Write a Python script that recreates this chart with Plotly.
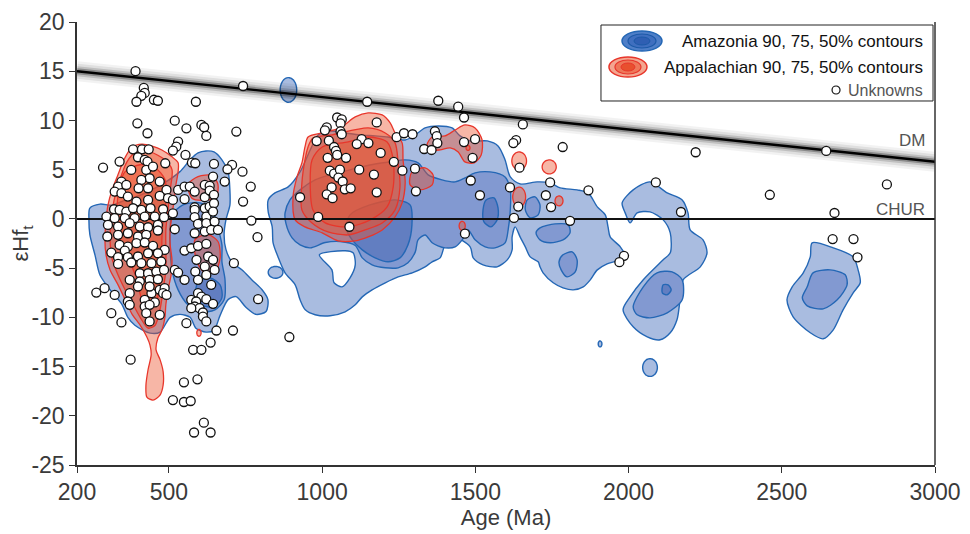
import numpy as np
import plotly.graph_objects as go

# ---------------- data (data units: Age in Ma, epsilon Hf) ----------------
x_ticks = [200, 500, 1000, 1500, 2000, 2500, 3000]
y_ticks = [-25, -20, -15, -10, -5, 0, 5, 10, 15, 20]
y_tick_text = ["-25", "-20", "-15", "-10", "-5", "0", "5", "10", "15", "20"]

dm_age = [200, 3000]
dm_ehf = [15.0, 5.8]
chur_age = [200, 3000]
chur_ehf = [0, 0]

# Amazonia contours (90 %, 75 %, 50 %)
amaz90_left = [(242,1.1),(275,1.5),(314,1.4),(357,1.9),(406,2.4),(471,3.4),(536,4.8),(569,6.0),(595,6.7),(621,6.9),(647,6.8),(673,6.0),(693,4.8),(699,2.9),(699,1.4),(686,-0.1),(680,-1.6),(686,-3.1),(706,-4.4),(739,-5.2),(771,-6.2),(804,-7.2),(823,-8.2),(817,-9.4),(784,-9.7),(752,-9.0),(719,-7.9),(693,-8.2),(667,-9.8),(647,-11.3),(621,-11.5),(588,-11.1),(569,-10.0),(536,-9.7),(504,-10.0),(471,-11.5),(438,-11.6),(389,-10.8),(366,-10.0),(347,-8.7),(308,-7.2),(275,-5.7),(259,-3.7),(242,-1.6),(239,-0.1)]
amaz90_center = [(824,1.93),(846,2.64),(889,3.25),(928,4.77),(961,7.0),(987,8.53),(1026,8.93),(1075,8.73),(1124,8.53),(1173,8.43),(1215,8.32),(1271,8.02),(1304,8.53),(1336,9.24),(1379,9.44),(1424,9.24),(1450,8.43),(1483,7.92),(1539,7.92),(1574,7.41),(1597,5.99),(1614,4.26),(1646,3.55),(1702,3.76),(1744,3.66),(1777,3.15),(1832,2.95),(1868,2.64),(1898,1.22),(1924,0.41),(1933,-0.81),(1940,-1.83),(1973,-2.84),(1989,-3.86),(1963,-4.26),(1930,-4.57),(1898,-5.18),(1875,-6.19),(1852,-6.90),(1819,-7.21),(1786,-7.0),(1754,-6.49),(1721,-5.48),(1711,-4.87),(1705,-4.36),(1679,-3.86),(1663,-2.84),(1646,-1.83),(1630,-0.81),(1620,-1.83),(1620,-3.15),(1604,-4.16),(1571,-4.87),(1525,-4.67),(1493,-3.96),(1483,-2.84),(1428,-1.83),(1401,-2.64),(1385,-3.96),(1359,-4.36),(1336,-4.87),(1294,-5.48),(1248,-5.89),(1206,-6.49),(1163,-7.21),(1131,-7.92),(1108,-8.73),(1075,-9.44),(1026,-9.84),(977,-9.74),(945,-9.24),(928,-8.22),(912,-6.70),(879,-5.48),(856,-3.86),(840,-2.43),(837,-0.81),(824,0.71)]
amaz90_hole = [(991,-3.65),(1075,-3.24),(1101,-3.45),(1108,-4.67),(1091,-5.99),(1065,-6.90),(1039,-6.49),(1032,-5.18)]
amaz90_right = [(1979,1.63),(2015,2.95),(2070,3.76),(2126,2.64),(2175,1.93),(2194,0.61),(2201,-1.12),(2243,-2.13),(2256,-3.45),(2234,-4.87),(2178,-6.19),(2168,-8.22),(2158,-10.25),(2136,-11.57),(2103,-12.28),(2061,-11.98),(2015,-10.96),(1982,-9.24),(2005,-7.92),(2048,-6.19),(2113,-4.16),(2136,-3.45),(2136,-1.42),(2113,-0.10),(2070,0.71),(2028,0.61),(2005,-0.40),(1989,0.61)]
amaz90_far = [(2599,-2.43),(2668,-2.94),(2733,-3.86),(2749,-5.18),(2756,-6.49),(2733,-7.51),(2700,-9.24),(2668,-11.27),(2635,-12.18),(2593,-11.57),(2537,-9.95),(2517,-8.22),(2534,-6.90),(2570,-5.48),(2593,-3.86)]
# small 90 % islands: (centre age, centre eHf, half-width Ma, half-height eHf)
amaz90_islands = [(890,13.1,27,1.25),(848,-5.43,24,0.6),(2070,-15.1,24,0.9),(1907,-12.7,6,0.3)]

amaz75_left = [(510,0.41),(546,1.42),(601,1.63),(641,0.91),(660,-0.91),(673,-2.64),(673,-4.36),(683,-6.19),(680,-8.22),(650,-9.24),(601,-9.44),(562,-8.73),(530,-7.21),(510,-5.18),(504,-3.15),(504,-1.12)]
amaz75_center = [(879,0.61),(895,1.93),(928,2.95),(977,3.96),(1026,4.47),(1091,4.98),(1156,5.48),(1222,5.79),(1271,5.99),(1313,5.69),(1346,4.47),(1391,3.96),(1434,3.76),(1466,4.16),(1499,4.67),(1548,4.77),(1597,4.26),(1614,2.95),(1614,0.91),(1607,-1.12),(1597,-2.43),(1564,-2.94),(1532,-2.84),(1499,-2.13),(1476,-1.12),(1457,-2.13),(1434,-2.84),(1401,-2.94),(1378,-2.74),(1359,-2.43),(1336,-1.63),(1313,-2.13),(1304,-3.35),(1280,-4.46),(1248,-4.97),(1206,-4.97),(1163,-4.67),(1131,-3.96),(1108,-2.7),(1059,-2.3),(1010,-2.4),(961,-2.94),(928,-2.64),(902,-1.93),(882,-0.48)]
amaz75_a = [(1669,1.93),(1695,2.23),(1711,1.42),(1705,0.41),(1679,0.10),(1663,0.91)]
amaz75_b = [(1711,-0.91),(1760,-0.51),(1803,-0.61),(1809,-1.42),(1786,-2.13),(1744,-2.43),(1711,-2.13),(1698,-1.42)]
amaz75_c = [(1786,-3.65),(1816,-3.35),(1832,-4.16),(1826,-5.38),(1799,-5.89),(1780,-5.18),(1773,-4.36)]
amaz75_right = [(2015,-8.93),(2048,-6.90),(2093,-5.48),(2142,-5.38),(2175,-6.19),(2175,-8.22),(2126,-9.54),(2070,-10.05),(2028,-9.74)]
amaz75_far = [(2602,-5.48),(2658,-5.18),(2707,-5.68),(2713,-6.70),(2681,-8.22),(2635,-9.14),(2583,-8.83),(2567,-8.02),(2583,-6.90)]

amaz50_left = [(595,-6.4),(634,-6.0),(667,-6.7),(673,-8.0),(650,-8.9),(611,-8.8),(588,-7.7)]
amaz50_center = [(1091,0.41),(1156,1.42),(1238,1.93),(1287,1.42),(1293,-0.61),(1280,-2.64),(1254,-3.96),(1215,-4.36),(1173,-3.96),(1131,-3.15),(1098,-2.13),(1078,-0.91)]
amaz50_b = [(1535,1.93),(1561,2.13),(1574,1.12),(1571,-0.10),(1551,-0.81),(1528,-0.30),(1525,0.91)]
amaz50_right = [(2113,-6.70),(2129,-6.70),(2139,-7.21),(2126,-7.71),(2110,-7.51)]

# Appalachian contours (90 %, 75 %, 50 %)
app90_left = [(380,7.3),(412,7.6),(445,7.4),(477,7.0),(510,6.3),(530,5.7),(530,4.8),(523,3.5),(517,1.9),(510,0.4),(504,-1.1),(504,-2.6),(510,-4.2),(507,-5.7),(497,-7.2),(490,-8.7),(487,-10.0),(477,-11.3),(464,-12.1),(458,-13.3),(471,-14.3),(481,-15.5),(481,-16.9),(471,-17.9),(448,-18.4),(428,-18.1),(425,-16.9),(432,-15.3),(442,-13.8),(438,-12.8),(428,-12.0),(406,-10.8),(380,-9.7),(357,-8.2),(334,-6.7),(308,-5.2),(295,-3.7),(291,-2.1),(295,-0.1),(301,1.4),(314,2.9),(334,4.5),(353,6.0)]
app90_left_b = [(562,3.5),(595,4.3),(641,4.4),(660,3.5),(654,2.2),(618,1.9),(575,2.1)]
app90_left_c = [(585,-2.1),(628,-1.6),(660,-2.3),(667,-4.0),(650,-5.4),(618,-5.5),(592,-4.4)]
app90_center = [(954,8.32),(1000,8.73),(1058,9.24),(1108,10.36),(1150,10.76),(1196,10.56),(1222,9.75),(1238,8.73),(1261,7.72),(1264,5.99),(1271,3.66),(1261,1.63),(1238,0.20),(1196,-1.12),(1150,-1.83),(1108,-2.23),(1052,-2.23),(1000,-1.42),(944,-0.81),(912,-0.10),(905,2.23),(918,4.26),(934,5.69),(944,7.31)]
app90_b = [(1293,4.77),(1336,5.18),(1362,4.47),(1359,3.45),(1320,2.95),(1287,3.45)]
app90_c = [(1342,7.51),(1359,8.32),(1401,8.43),(1434,9.03),(1466,9.54),(1499,9.24),(1522,8.02),(1519,6.50),(1496,5.69),(1466,5.79),(1444,6.80),(1418,7.21),(1385,7.01),(1352,7.01)]
app90_islands = [(1643,5.89,24,0.91),(1741,5.28,23,0.71),(1643,2.23,21,1.0),(1773,1.83,13,0.5),(1457,-0.71,10,0.46),(598,-11.57,7,0.35),(1476,7.21,6.5,0.25)]

app75_left = [(389,6.7),(438,6.8),(487,6.0),(510,5.0),(504,2.9),(497,0.9),(490,-1.1),(490,-3.1),(490,-5.2),(481,-7.2),(471,-9.2),(455,-10.8),(432,-11.1),(406,-10.0),(383,-8.7),(357,-7.2),(334,-5.7),(314,-4.0),(308,-2.1),(311,-0.1),(321,1.9),(340,4.0),(363,5.8)]
app75_center = [(970,8.22),(1032,8.53),(1150,9.24),(1206,8.73),(1238,7.72),(1248,5.69),(1254,3.25),(1238,0.91),(1196,-0.41),(1140,-1.12),(1085,-1.63),(1019,-1.32),(967,-0.41),(934,0.91),(934,3.66),(944,5.99),(954,7.31)]

app50_left = [(357,4.8),(406,5.5),(455,5.2),(487,4.0),(490,1.9),(481,-0.1),(477,-2.1),(477,-4.2),(471,-6.2),(461,-8.2),(438,-9.0),(412,-8.2),(396,-6.2),(373,-4.4),(347,-2.6),(331,-0.6),(331,1.4),(340,3.5)]
app50_center = [(1000,7.31),(1085,7.82),(1150,8.32),(1212,7.82),(1232,5.99),(1232,3.25),(1212,1.22),(1157,-0.10),(1085,-0.81),(1010,-0.41),(970,0.91),(961,3.66),(967,5.99)]

# Unknown samples
unk_age = [391,742,418,421,410,394,451,464,588,
 397,519,557,606,615,622,720,430,530,524,513,383,412,434,399,421,430,554,339,488,575,586,647,706,691,285,
 377,426,448,437,410,345,334,361,401,432,470,492,530,551,568,584,617,633,644,682,740,767,
 323,345,366,394,432,470,497,513,551,584,617,633,647,321,339,361,383,410,440,481,513,584,617,633,647,742,296,323,356,388,421,454,484,584,622,644,769,
 301,334,372,405,432,464,519,595,622,649,299,334,366,399,426,464,584,617,638,660,339,366,394,421,448,486,551,573,595,622,789,312,356,
 334,366,399,432,464,590,628,644,617,649,334,377,410,443,475,405,432,459,484,519,530,586,622,712,372,405,437,464,551,595,638,
 263,290,372,443,470,486,481,399,437,323,366,421,454,492,595,606,573,589,622,644,791,372,421,437,584,600,611,573,312,426,470,611,437,345,557,622,655,709,
 636,579,606,
 375,549,593,513,549,571,614,582,636,893,
 928,1147,1379,1444,1049,1064,1060,1178,1015,1009,1060,1064,982,1022,1129,1113,1151,1243,1267,1295,1368,1374,1376,1333,1357,1039,1045,1049,1018,1078,1191,1234,1025,1039,1058,1053,1067,1121,1169,1262,1303,1031,1074,1093,1015,1034,1178,1306,987,1089,
 1463,1655,1633,1624,1785,1463,1499,1491,1644,1485,1515,1613,1744,1730,1747,1869,1640,1626,1809,1466,1985,1970,
 2219,2645,2843,2461,2089,2171,2672,2666,2734,2747]
unk_ehf = [15.0,13.5,13.3,12.8,12.5,11.9,12.1,12.0,11.9,
 9.71,9.98,9.20,9.54,9.31,8.43,8.87,8.70,7.85,7.34,6.94,7.07,7.07,7.07,6.26,5.99,5.82,6.50,5.82,5.65,5.72,5.65,5.58,5.48,5.04,5.21,
 4.97,4.97,5.31,4.13,3.96,3.79,3.28,3.45,3.11,3.11,3.79,2.94,2.94,3.28,3.28,2.77,3.45,3.35,4.30,3.79,4.80,3.28,
 2.77,2.61,2.27,1.76,1.93,2.33,2.10,1.93,2.00,1.18,2.20,2.88,2.44,0.98,0.91,0.74,1.08,0.91,1.08,0.98,0.57,0.91,1.08,1.25,1.59,1.76,0.24,0.07,0.07,0.07,0.24,0.24,0.17,0.17,0.24,0.74,-0.17,
 -0.61,-0.78,-0.44,-0.78,-0.85,-0.61,-1.05,-0.51,-0.44,-0.27,-1.79,-1.62,-1.46,-1.79,-1.62,-1.18,-1.46,-1.29,-1.12,-1.12,-2.64,-2.81,-2.47,-2.40,-2.74,-3.15,-3.22,-2.98,-2.74,-2.54,-1.86,-3.42,-3.22,
 -3.89,-3.89,-3.82,-3.49,-3.49,-4.16,-3.82,-4.16,-4.84,-5.18,-4.57,-4.43,-4.50,-4.50,-4.33,-5.52,-5.52,-5.35,-5.18,-5.18,-5.45,-5.35,-5.69,-4.50,-6.19,-6.36,-6.19,-6.13,-6.19,-6.19,-6.70,
 -7.48,-7.04,-7.55,-7.55,-7.21,-7.04,-7.55,-6.87,-6.87,-7.72,-8.39,-8.22,-8.49,-7.72,-7.55,-7.89,-8.22,-8.39,-8.16,-8.63,-8.16,-8.73,-8.90,-8.73,-8.90,-9.07,-9.51,-9.07,-9.58,-9.58,-9.75,-9.92,-10.42,-10.52,-10.59,-10.42,-11.34,-11.34,
 -12.56,-13.30,-13.30,
 -14.3,-16.6,-16.3,-18.4,-18.6,-18.5,-20.7,-21.7,-21.7,-12.0,
 2.2,11.9,12.0,11.4,10.3,10.1,9.7,9.8,9.3,9.0,8.9,8.6,7.9,7.95,8.1,7.6,7.7,8.3,8.7,8.6,8.9,8.4,7.7,7.1,7.0,7.3,6.9,6.5,6.2,6.2,6.7,5.8,4.9,4.6,5.0,4.2,3.8,5.0,4.5,4.9,5.1,3.2,3.0,3.1,2.5,2.1,2.7,2.8,0.2,-0.8,
 10.3,9.6,8.0,7.7,7.3,7.8,8.1,6.2,5.2,3.9,2.4,3.2,3.7,2.4,1.2,2.9,1.25,0.1,-0.2,-1.5,-3.75,-4.4,
 6.77,6.9,3.5,2.45,3.7,0.7,0.6,-2.05,-2.05,-3.9]

# ---------------- styles ----------------
BLUE_LINE = "#2467b5"
BLUE90, BLUE75, BLUE50 = "#a9bce0", "#8299d1", "#627ec1"
RED_LINE = "#e8362b"
RED_FILL = "rgba(236,80,42,0.42)"
FONT = "Liberation Sans, Arial, sans-serif"
TXT = "#3a3a3a"

fig = go.Figure()


def ellipse(cx, cy, rx, ry, n=40):
    t = np.linspace(0, 2 * np.pi, n)
    return list(zip(cx + rx * np.cos(t), cy + ry * np.sin(t)))


def poly(pts, fill, line_color, width=1.4):
    xs = [p[0] for p in pts] + [pts[0][0]]
    ys = [p[1] for p in pts] + [pts[0][1]]
    fig.add_trace(go.Scatter(x=xs, y=ys, mode="lines", fill="toself", fillcolor=fill,
                             line=dict(color=line_color, width=width, shape="spline", smoothing=0.8),
                             hoverinfo="skip", showlegend=False))


for p in [amaz90_left, amaz90_center, amaz90_right, amaz90_far] + [ellipse(*e) for e in amaz90_islands]:
    poly(p, BLUE90, BLUE_LINE)
poly(amaz90_hole, "white", BLUE_LINE)
for p in [amaz75_left, amaz75_center, amaz75_a, amaz75_b, amaz75_c, amaz75_right, amaz75_far]:
    poly(p, BLUE75, BLUE_LINE)
for p in [amaz50_left, amaz50_center, amaz50_b, amaz50_right]:
    poly(p, BLUE50, BLUE_LINE)

for p in [app90_left, app90_left_b, app90_left_c, app90_center, app90_b, app90_c] + [ellipse(*e) for e in app90_islands]:
    poly(p, RED_FILL, RED_LINE, 1.3)
for p in [app75_left, app75_center]:
    poly(p, RED_FILL, RED_LINE, 1.3)
for p in [app50_left, app50_center]:
    poly(p, RED_FILL, RED_LINE, 1.3)

# CHUR
fig.add_trace(go.Scatter(x=chur_age, y=chur_ehf, mode="lines", line=dict(color="#111", width=2),
                         hoverinfo="skip", showlegend=False))
# DM with soft halo
for w, a in [(20, 0.05), (15, 0.08), (10, 0.14), (6, 0.28)]:
    fig.add_trace(go.Scatter(x=dm_age, y=dm_ehf, mode="lines", line=dict(color=f"rgba(0,0,0,{a})", width=w),
                             hoverinfo="skip", showlegend=False))
fig.add_trace(go.Scatter(x=dm_age, y=dm_ehf, mode="lines", line=dict(color="#000", width=2.4),
                         hoverinfo="skip", showlegend=False))

# Unknowns
fig.add_trace(go.Scatter(x=unk_age, y=unk_ehf, mode="markers",
                         marker=dict(size=9, color="white", line=dict(color="#111", width=1.3)),
                         showlegend=False))

# ---------------- custom legend ----------------
shapes = [
    dict(type="rect", xref="paper", yref="paper", x0=0.6107, x1=0.9977, y0=0.8217, y1=0.9932,
         line=dict(color="#222", width=1), fillcolor="white"),
    dict(type="circle", xref="paper", yref="paper", x0=0.6352, x1=0.6818, y0=0.9345, y1=0.9797,
         line=dict(color=BLUE_LINE, width=1.5), fillcolor="#4f7fc8"),
    dict(type="circle", xref="paper", yref="paper", x0=0.6422, x1=0.6748, y0=0.9413, y1=0.9729,
         line=dict(color="#1d5aa8", width=1.2), fillcolor="#3f6fbf"),
    dict(type="circle", xref="paper", yref="paper", x0=0.6492, x1=0.6678, y0=0.9481, y1=0.9661,
         line=dict(color="#1d5aa8", width=1), fillcolor="#2f5fb3"),
    dict(type="circle", xref="paper", yref="paper", x0=0.6200, x1=0.6643, y0=0.8758, y1=0.9210,
         line=dict(color=RED_LINE, width=1.5), fillcolor="#f3a690"),
    dict(type="circle", xref="paper", yref="paper", x0=0.6270, x1=0.6573, y0=0.8826, y1=0.9142,
         line=dict(color=RED_LINE, width=1.2), fillcolor="#ee7759"),
    dict(type="circle", xref="paper", yref="paper", x0=0.6340, x1=0.6503, y0=0.8894, y1=0.9074,
         line=dict(color=RED_LINE, width=1), fillcolor="#e8502e"),
    dict(type="circle", xref="paper", yref="paper", x0=0.8800, x1=0.8893, y0=0.8375, y1=0.8555,
         line=dict(color="#111", width=1.2), fillcolor="white"),
    dict(type="line", xref="paper", yref="paper", x0=1, x1=1, y0=0, y1=1,
         line=dict(color="#333", width=1.5)),
]

annotations = [
    dict(xref="paper", yref="paper", x=0.9883, y=0.9571, xanchor="right", yanchor="middle", showarrow=False,
         text="Amazonia 90, 75, 50% contours", font=dict(size=17, color="#111", family=FONT)),
    dict(xref="paper", yref="paper", x=0.9883, y=0.8962, xanchor="right", yanchor="middle", showarrow=False,
         text="Appalachian 90, 75, 50% contours", font=dict(size=17, color="#111", family=FONT)),
    dict(xref="paper", yref="paper", x=0.9883, y=0.8465, xanchor="right", yanchor="middle", showarrow=False,
         text="Unknowns", font=dict(size=16, color="#555", family=FONT)),
    dict(xref="x", yref="y", x=2975, y=8.0, xanchor="right", yanchor="middle", showarrow=False,
         text="DM", font=dict(size=17, color="#555", family=FONT)),
    dict(xref="x", yref="y", x=2975, y=0.95, xanchor="right", yanchor="middle", showarrow=False,
         text="CHUR", font=dict(size=17, color="#555", family=FONT)),
]

# the page body adds an 8 px offset, so margins are shifted to keep the plot area at 77..935 x 22..465
fig.update_layout(
    width=970, height=534,
    margin=dict(l=69, r=43, t=14, b=77, autoexpand=False),
    paper_bgcolor="white", plot_bgcolor="white",
    font=dict(family=FONT, color=TXT, size=22),
    shapes=shapes, annotations=annotations,
    showlegend=False,
    xaxis=dict(range=[200, 3000], tickvals=x_ticks, showline=True, linecolor="#333", linewidth=1.5,
               ticks="outside", ticklen=6, tickcolor="#333", showgrid=False, zeroline=False,
               automargin=False, tickfont=dict(size=23, color=TXT),
               title=dict(text="Age (Ma)", font=dict(size=22, color=TXT), standoff=0)),
    yaxis=dict(range=[-25, 20], tickvals=y_ticks, ticktext=y_tick_text, showline=True, linecolor="#333",
               linewidth=1.5, ticks="outside", ticklen=6, tickcolor="#333", showgrid=False, zeroline=False,
               automargin=False, tickfont=dict(size=23, color=TXT),
               title=dict(text="εHf<sub>t</sub>", font=dict(size=22, color=TXT), standoff=4)),
)

fig.write_html("out.html")
